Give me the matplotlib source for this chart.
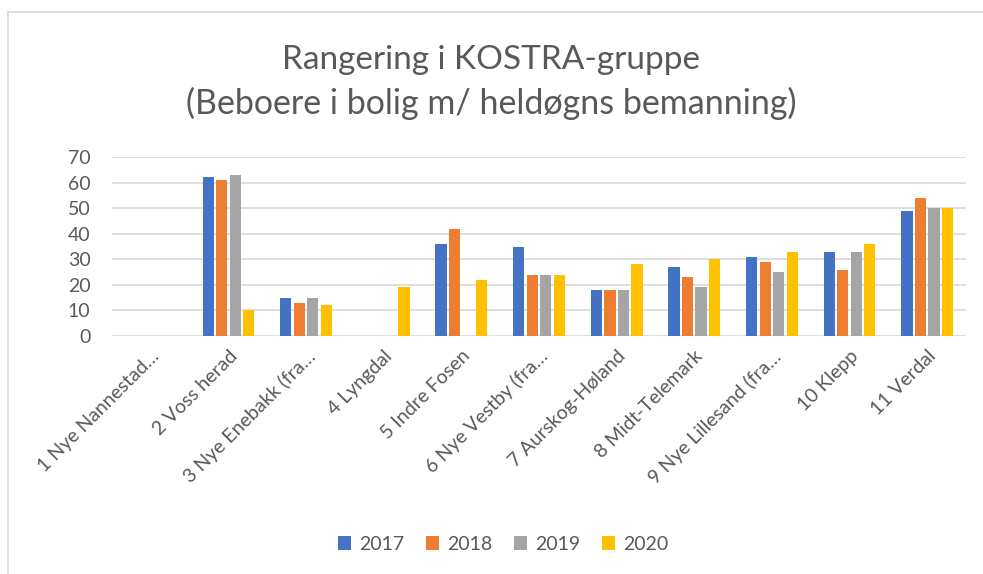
import matplotlib
matplotlib.use("Agg")
import matplotlib.pyplot as plt
import numpy as np
from matplotlib.patches import Rectangle

categories = ["1 Nye Nannestad…", "2 Voss herad", "3 Nye Enebakk (fra…", "4 Lyngdal",
              "5 Indre Fosen", "6 Nye Vestby (fra…", "7 Aurskog-Høland", "8 Midt-Telemark",
              "9 Nye Lillesand (fra…", "10 Klepp", "11 Verdal"]
years = ["2017", "2018", "2019", "2020"]
v2017 = [np.nan, 62, 15, np.nan, 36, 35, 18, 27, 31, 33, 49]
v2018 = [np.nan, 61, 13, np.nan, 42, 24, 18, 23, 29, 26, 54]
v2019 = [np.nan, 63, 15, np.nan, np.nan, 24, 18, 19, 25, 33, 50]
v2020 = [np.nan, 10, 12, 19, 22, 24, 28, 30, 33, 36, 50]
colors = ["#4472C4", "#ED7D31", "#A5A5A5", "#FFC000"]

plt.rcParams['font.family'] = ['Lato', 'DejaVu Sans']
text_color = "#595959"

fig = plt.figure(figsize=(9.83, 5.74), dpi=100)
fig.patch.set_facecolor("white")
fig.add_artist(Rectangle((8/983, -0.1), 1.2, 1 - 12/574 + 0.1, transform=fig.transFigure,
                         fill=False, edgecolor="#D9D9D9", linewidth=1.2))

ax = fig.add_axes([112/983, 1 - 336/574, (966 - 112)/983, (336 - 157)/574])
x = np.arange(len(categories))
slot = 0.174
width = 0.145
for i, (vals, c, y) in enumerate(zip([v2017, v2018, v2019, v2020], colors, years)):
    ax.bar(x + (i - 1.5) * slot, vals, width, color=c, label=y, zorder=3)

ax.set_xlim(-0.5, len(categories) - 0.5)
ax.set_ylim(0, 70)
ax.set_yticks(range(0, 71, 10))
ax.yaxis.grid(True, color="#D9D9D9", linewidth=1.2, zorder=0)
for s in ax.spines.values():
    s.set_visible(False)
ax.tick_params(axis='both', length=0, colors=text_color, labelsize=14)
ax.tick_params(axis='y', pad=15.5)
ax.set_xticks(x)
ax.set_xticklabels(categories, rotation=45, ha='right', va='top', rotation_mode='anchor',
                   fontsize=14, color=text_color)
ax.tick_params(axis='x', pad=8)

fig.text(0.5, 1 - 60/574, "Rangering i KOSTRA-gruppe", ha='center', va='center',
         fontsize=24, color=text_color)
fig.text(0.5, 1 - 103/574, "(Beboere i bolig m/ heldøgns bemanning)", ha='center', va='center',
         fontsize=24.5, color=text_color)

fig.legend(loc='center', bbox_to_anchor=(503/983, 1 - 544/574), ncol=4, frameon=False,
           fontsize=14, labelcolor=text_color, handlelength=0.7, handleheight=0.7,
           columnspacing=1.1, handletextpad=0.4)

fig.savefig("out.png", dpi=100, facecolor="white")
